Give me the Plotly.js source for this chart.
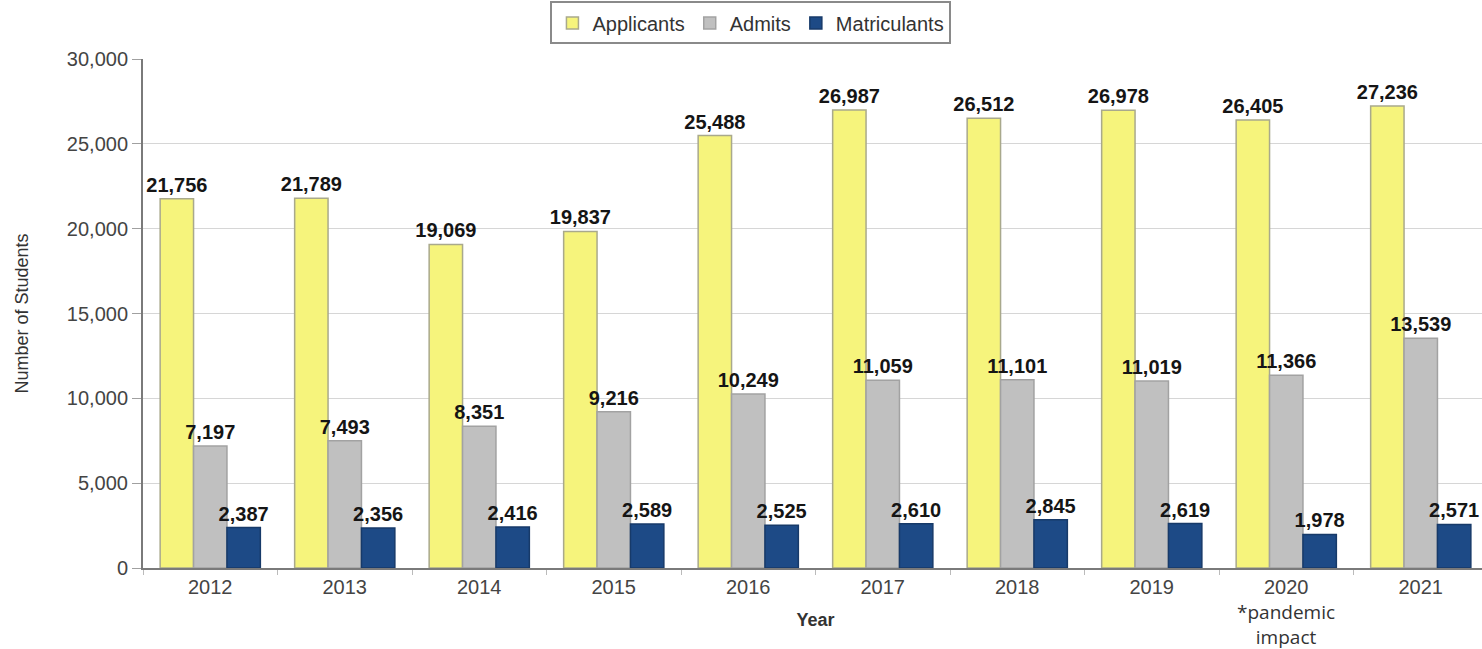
<!DOCTYPE html>
<html>
<head>
<meta charset="utf-8">
<script src="https://cdn.plot.ly/plotly-3.0.1.min.js"></script>
<style>
  html, body { margin: 0; padding: 0; overflow: hidden; background: #fff; }
  #chart { width: 1490px; height: 649px; }
</style>
</head>
<body>
<div id="chart"></div>
<script>
const years = ['2012', '2013', '2014', '2015', '2016', '2017', '2018', '2019', '2020', '2021'];
const applicants = [21756, 21789, 19069, 19837, 25488, 26987, 26512, 26978, 26405, 27236];
const admits = [7197, 7493, 8351, 9216, 10249, 11059, 11101, 11019, 11366, 13539];
const matriculants = [2387, 2356, 2416, 2589, 2525, 2610, 2845, 2619, 1978, 2571];
const seriesNames = ['Applicants', 'Admits', 'Matriculants'];
const noteYear = '2020';
const noteText = '*pandemic<br>impact';

const fmt = v => v.toLocaleString('en-US');
const labelFont = { family: 'Liberation Sans, Arial, sans-serif', size: 20, color: '#151515', weight: 'bold' };

function barTrace(name, values, fill, edge) {
  return {
    type: 'bar',
    name: name,
    x: years,
    y: values,
    text: values.map(fmt),
    textposition: 'outside',
    constraintext: 'none',
    textfont: labelFont,
    cliponaxis: false,
    marker: { color: fill, line: { color: edge, width: 1.5 } },
    hoverinfo: 'x+y'
  };
}

const data = [
  barTrace(seriesNames[0], applicants, '#f6f47c', '#a9a98c'),
  barTrace(seriesNames[1], admits, '#c0c0c0', '#a2a2a2'),
  barTrace(seriesNames[2], matriculants, '#1d4a86', '#173a69')
];

const layout = {
  width: 1490,
  height: 649,
  margin: { l: 143, r: 2, t: 59, b: 81, pad: 0 },
  paper_bgcolor: '#ffffff',
  plot_bgcolor: '#ffffff',
  font: { family: 'Liberation Sans, Arial, sans-serif', size: 20, color: '#444' },
  barmode: 'group',
  bargap: 0.255,
  bargroupgap: 0,
  showlegend: true,
  legend: {
    orientation: 'h',
    x: 0.452, xanchor: 'center',
    y: 1.113, yanchor: 'top',
    bordercolor: '#8a8a8a', borderwidth: 2,
    bgcolor: '#ffffff',
    font: { family: 'Liberation Sans, Arial, sans-serif', size: 20, color: '#333' },
    itemwidth: 30,
    traceorder: 'normal'
  },
  xaxis: {
    type: 'category',
    categoryorder: 'array',
    categoryarray: years,
    range: [-0.5, years.length - 0.5],
    autorange: false,
    title: { text: 'Year', font: { size: 18, color: '#333', weight: 'bold' }, standoff: 16 },
    tickfont: { size: 20, color: '#444' },
    tickangle: 0,
    ticks: 'outside', tickson: 'boundaries', ticklen: 5, tickcolor: '#bbbbbb', tickwidth: 1,
    showline: true, linecolor: '#7a7a7a', linewidth: 2,
    showgrid: false,
    automargin: false,
    fixedrange: true
  },
  yaxis: {
    title: { text: 'Number of Students', font: { size: 18, color: '#333' }, standoff: 34 },
    range: [0, 30000],
    autorange: false,
    dtick: 5000,
    tickformat: ',d',
    tickfont: { size: 20, color: '#444' },
    ticks: 'outside', ticklen: 9, tickcolor: '#a0a0a0', tickwidth: 1,
    showline: true, linecolor: '#7a7a7a', linewidth: 2,
    showgrid: true, gridcolor: '#d6d6d6', gridwidth: 1,
    zeroline: false,
    automargin: false,
    fixedrange: true
  },
  annotations: [{
    xref: 'x', yref: 'paper',
    x: years.indexOf(noteYear), y: 0,
    yanchor: 'top', xanchor: 'center',
    yshift: -29,
    text: noteText,
    showarrow: false,
    align: 'center',
    font: { family: 'Open Sans, sans-serif', size: 19, color: '#333' }
  }]
};

Plotly.newPlot('chart', data, layout, { displayModeBar: false });
</script>
</body>
</html>
